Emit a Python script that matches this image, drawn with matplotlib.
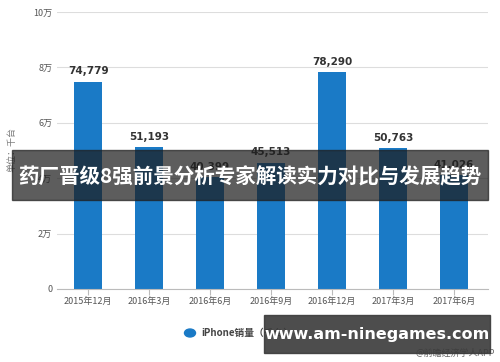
import numpy as np
import matplotlib
matplotlib.use("Agg")
import matplotlib.pyplot as plt
from matplotlib.patches import Rectangle

plt.rcParams['font.family'] = ['Noto Sans CJK SC', 'DejaVu Sans']

# data
periods = ['2015年12月', '2016年3月', '2016年6月', '2016年9月',
           '2016年12月', '2017年3月', '2017年6月']
sales = [74779, 51193, 40399, 45513, 78290, 50763, 41026]
yticks = [0, 20000, 40000, 60000, 80000, 100000]
ytick_labels = ['0', '2万', '4万', '6万', '8万', '10万']

fig = plt.figure(figsize=(5, 3.62), dpi=100)
fig.patch.set_facecolor('white')
ax = fig.add_axes([57 / 500, 1 - 289 / 362, 431 / 500, 277 / 362])

x = np.arange(len(periods))
ax.bar(x, sales, width=0.46, color='#1a7ac6', zorder=2)
for xi, v in zip(x, sales):
    ax.text(xi, v + 2000, f'{v:,}', ha='center', va='bottom',
            fontsize=7.5, fontweight='bold', color='#333333',
            family='DejaVu Sans')

ax.set_xlim(-0.51, 6.56)
ax.set_ylim(0, 100000)
ax.set_yticks(yticks)
ax.set_yticklabels(ytick_labels)
ax.set_xticks(x)
ax.set_xticklabels(periods)
ax.tick_params(axis='both', labelsize=6.5, colors='#555555', length=0)
ax.tick_params(axis='x', length=4, color='#bbbbbb', pad=2)
ax.grid(axis='y', color='#dddddd', linewidth=0.8, zorder=0)
for s in ['top', 'right', 'left']:
    ax.spines[s].set_visible(False)
ax.spines['bottom'].set_color('#bbbbbb')

fig.text(12 / 500, 1 - 150 / 362, '单位：千台', rotation=90,
         ha='center', va='center', fontsize=6.5, color='#777777')

# legend
fig.patches.append(plt.Circle((190 / 500, 1 - 333 / 362), 0.011,
                              transform=fig.transFigure, color='#1a7ac6'))
fig.text(201 / 500, 1 - 333 / 362, 'iPhone销量（千台）', ha='left',
         va='center', fontsize=7, fontweight='bold', color='#444444')

fig.text(495 / 500, 1 - 353 / 362, '@前瞻经济学人APP', ha='right',
         va='center', fontsize=6.5, color='#666666')

# overlay banners
fig.patches.append(Rectangle((12 / 500, 1 - 200 / 362), 476 / 500, 50 / 362,
                             transform=fig.transFigure, color='#1e1e1e',
                             alpha=0.72, zorder=5))
fig.text(250 / 500, 1 - 177 / 362, '药厂晋级8强前景分析专家解读实力对比与发展趋势',
         ha='center', va='center', fontsize=14.8, fontweight='bold',
         color='white', zorder=6)

fig.patches.append(Rectangle((264 / 500, 1 - 353 / 362), 226 / 500, 38 / 362,
                             transform=fig.transFigure, color='#3a3a3a',
                             alpha=0.9, zorder=5))
fig.text(377 / 500, 1 - 334 / 362, 'www.am-ninegames.com', ha='center',
         va='center', fontsize=11.5, fontweight='bold', color='white',
         family='DejaVu Sans', zorder=6)

fig.savefig('out.png', dpi=100)
